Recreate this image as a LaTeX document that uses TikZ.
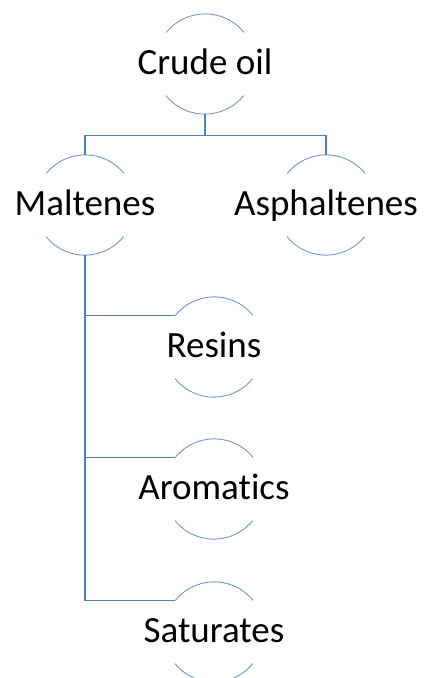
\documentclass[tikz,border=0pt]{standalone}
\usepackage{fontspec}
\setmainfont{Carlito}[Ligatures=NoCommon]
\usepackage{xcolor}
\definecolor{linkblue}{HTML}{4F81BD}
\definecolor{arcblue}{HTML}{6F98CB}

\begin{document}
\begin{tikzpicture}[x=1pt, y=-1pt,
    ring/.style={circle, minimum size=100pt, inner sep=0pt},
    itemtext/.style={font=\fontsize{37}{37}\selectfont, text height=20pt, text depth=0pt, inner sep=0pt},
    link/.style={draw=linkblue, line width=1.2pt}]
    \useasboundingbox (0,0) rectangle (425,678);

    % Nodes
    \node[ring, label={[itemtext]center:Crude oil}] (crude) at (205, 64) {};
    \node[ring, label={[itemtext]center:Maltenes}] (malt) at (85, 205) {};
    \node[ring, label={[itemtext]center:Asphaltenes}] (asph) at (326, 205) {};
    \node[ring, label={[itemtext]center:Resins}] (resins) at (214, 347) {};
    \node[ring, label={[itemtext]center:Aromatics}] (arom) at (214, 489) {};
    \node[ring, label={[itemtext]center:Saturates}] (sat) at (214, 632) {};

    % half-open circles
    \foreach \n in {crude, malt, asph, resins, arom, sat} {
        \draw[arcblue, line width=0.9pt] (\n.39) arc[start angle=39, end angle=141, radius=50pt];
        \draw[arcblue, line width=0.9pt] (\n.219) arc[start angle=219, end angle=321, radius=50pt];
    }

    % Connectors
    \draw[link] (crude.south) -- ++(0, 21) -| (malt.north);
    \draw[link] (crude.south) -- ++(0, 21) -| (asph.north);
    \draw[link] (malt.south) |- (resins.141);
    \draw[link] (malt.south) |- (arom.141);
    \draw[link] (malt.south) |- (sat.141);
\end{tikzpicture}
\end{document}
